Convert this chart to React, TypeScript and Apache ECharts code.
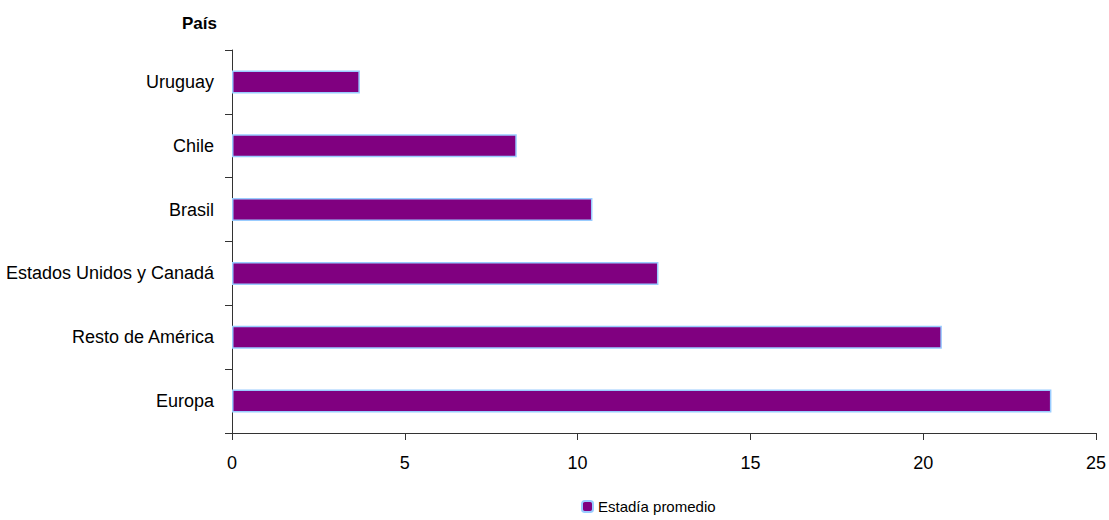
import React, { useEffect, useRef } from "react";
import * as echarts from "echarts";

const categories = ["Uruguay", "Chile", "Brasil", "Estados Unidos y Canadá", "Resto de América", "Europa"];
const stayValues = [3.7, 8.24, 10.43, 12.34, 20.54, 23.71];
const seriesName = "Estadía promedio";
const axisTitle = "País";

export default function App() {
  const ref = useRef<HTMLDivElement>(null);
  useEffect(() => {
    document.body.style.margin = "0";
    document.body.style.overflow = "hidden";
    if (!ref.current) return;
    const chart = echarts.init(ref.current, null, { renderer: "svg" });
    const font = "'Liberation Sans', Arial, sans-serif";
    chart.setOption({
      animation: false,
      backgroundColor: "#ffffff",
      grid: { left: 232, right: 13, top: 50, bottom: 87, containLabel: false },
      graphic: [
        {
          type: "text",
          left: 182,
          top: 15,
          style: { text: axisTitle, font: `bold 17px ${font}`, fill: "#000" },
        },
      ],
      legend: {
        left: 576,
        top: 494,
        padding: 5,
        itemWidth: 11,
        itemHeight: 11,
        itemGap: 8,
        textStyle: { fontFamily: font, fontSize: 15, color: "#000" },
        data: [seriesName],
      },
      xAxis: {
        type: "value",
        min: 0,
        max: 25,
        interval: 5,
        splitLine: { show: false },
        axisLine: { show: true, lineStyle: { color: "#333", width: 1 } },
        axisTick: { show: true, length: 7, lineStyle: { color: "#333" } },
        axisLabel: { fontFamily: font, fontSize: 18, color: "#000", margin: 21 },
      },
      yAxis: {
        type: "category",
        inverse: true,
        data: categories,
        axisLine: { show: true, lineStyle: { color: "#333", width: 1 } },
        axisTick: { show: true, length: 7, alignWithLabel: false, lineStyle: { color: "#333" } },
        axisLabel: { fontFamily: font, fontSize: 18, color: "#000", margin: 18 },
      },
      series: [
        {
          name: seriesName,
          type: "bar",
          data: stayValues,
          barWidth: 23,
          itemStyle: { color: "#800080", borderColor: "#99ccff", borderWidth: 1.5 },
        },
      ],
    });
    return () => chart.dispose();
  }, []);
  return <div ref={ref} style={{ position: "fixed", left: 0, top: 0, width: 1109, height: 520 }} />;
}
